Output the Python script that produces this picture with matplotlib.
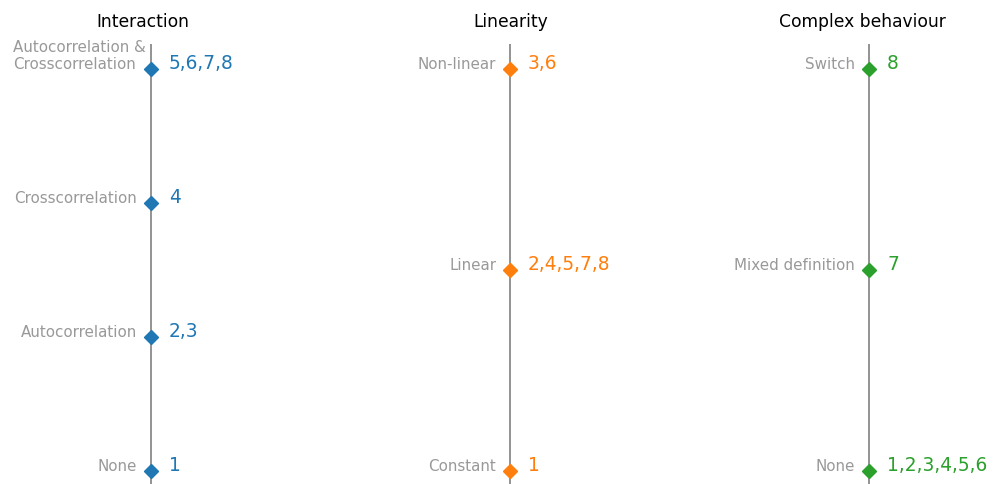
import numpy as np
from matplotlib import pyplot as plt

plt.rcParams['font.family'] = ['DejaVu Sans']

# one panel per property: level names (bottom to top) and which cases fall in each
titles = ["Interaction", "Linearity", "Complex behaviour"]
colors = ["tab:blue", "tab:orange", "tab:green"]

interaction_levels = ["None", "Autocorrelation", "Crosscorrelation",
                      "Autocorrelation &\nCrosscorrelation"]
interaction_cases = ["1", "2,3", "4", "5,6,7,8"]

linearity_levels = ["Constant", "Linear", "Non-linear"]
linearity_cases = ["1", "2,4,5,7,8", "3,6"]

complex_levels = ["None", "Mixed definition", "Switch"]
complex_cases = ["1,2,3,4,5,6", "7", "8"]

panels = [(interaction_levels, interaction_cases),
          (linearity_levels, linearity_cases),
          (complex_levels, complex_cases)]

W, H = 998, 484
fig = plt.figure(figsize=(W / 100, H / 100), dpi=100)

title_cx = [142.5, 511, 862]   # pixel centre of each title
line_x = [151, 510, 869]       # pixel x of each vertical line
ax_w = 240
top_px, bot_px = 44, 484

for i, (levels, cases) in enumerate(panels):
    left = title_cx[i] - ax_w / 2
    ax = fig.add_axes([left / W, 1 - bot_px / H, ax_w / W, (bot_px - top_px) / H])
    frac = (line_x[i] - left) / ax_w
    ax.set_xlim(-frac, 1 - frac)

    n = len(levels)
    y = np.arange(n)
    # marker centres: bottom at ~471px, top at ~69px
    step = (471 - 69) / (n - 1)
    ax.set_ylim(-(bot_px - 471) / step, (n - 1) + (69 - top_px) / step)

    ax.axvline(0, color="gray", lw=1.2, zorder=1)
    ax.plot(np.zeros(n), y, "D", color=colors[i], ms=7.5, zorder=2)

    for yy, lab, case in zip(y, levels, cases):
        if "\n" in lab:
            # wrapped label: lines left-aligned, last line ends next to the line
            ax.annotate(lab, (0, yy), xytext=(-3.5, 0), textcoords="offset points",
                        ha="right", va="baseline", multialignment="left",
                        fontsize=10.9, color="#999999")
        else:
            ax.annotate(lab, (0, yy), xytext=(-10, 0), textcoords="offset points",
                        ha="right", va="baseline", fontsize=10.9, color="#999999")
        ax.annotate(case, (0, yy), xytext=(13, 0), textcoords="offset points",
                    ha="left", va="baseline", fontsize=13.4, color=colors[i])

    ax.set_title(titles[i], fontsize=12.3, pad=12)
    ax.axis("off")

plt.savefig("out.png", dpi=100)
